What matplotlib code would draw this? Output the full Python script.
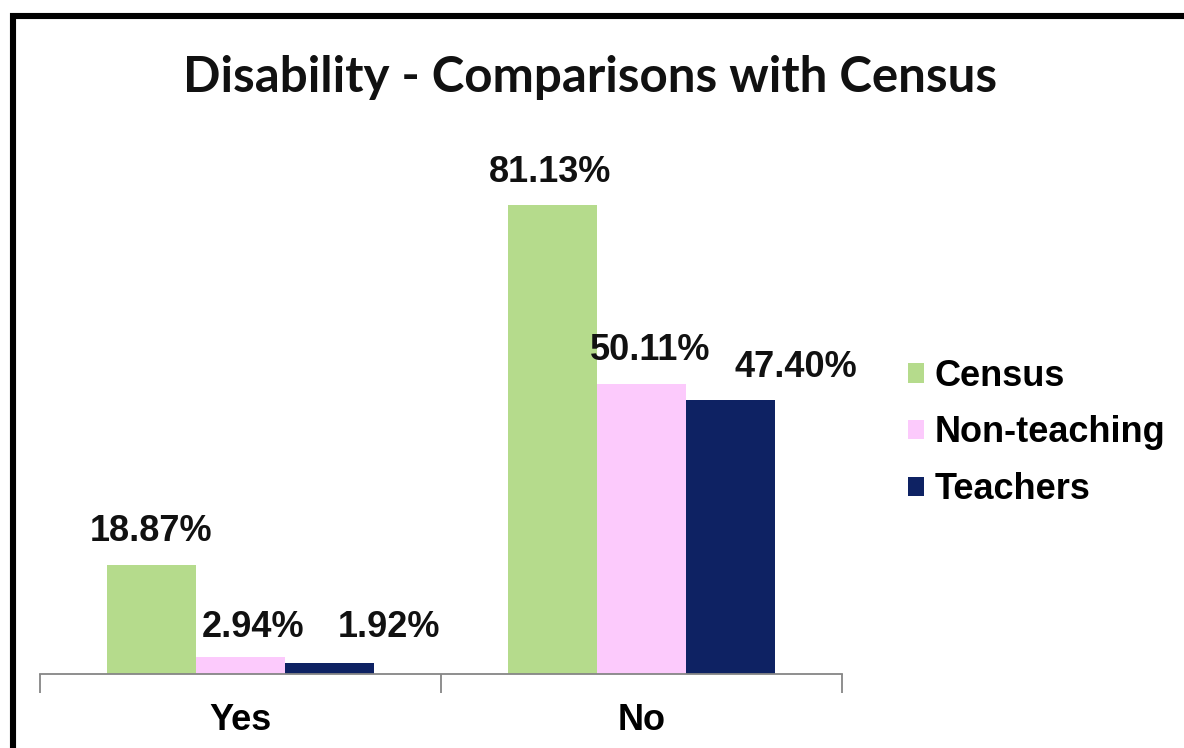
import matplotlib
matplotlib.use("Agg")
import matplotlib.pyplot as plt
from matplotlib.patches import Rectangle, Patch
import numpy as np

W, H, DPI = 1184, 748, 100

categories = ["Yes", "No"]
series = ["Census", "Non-teaching", "Teachers"]
census = [18.87, 81.13]
non_teaching = [2.94, 50.11]
teachers = [1.92, 47.40]

colors = ["#b5db8c", "#fccafc", "#0e2263"]
# label nudges in pixels (dx, dy above bar top), per series then category
label_dx = [[0, -2], [13, 9], [59, 65]]
label_dy = [[24, 23], [20, 24], [26, 23]]

plt.rcParams["font.family"] = ["Liberation Sans", "DejaVu Sans"]

fig = plt.figure(figsize=(W / DPI, H / DPI), dpi=DPI)
fig.patch.set_facecolor("white")

# outer frame of the chart area
fig.add_artist(Rectangle((13 / W, -0.1), 1.5, 1.1 - 16 / H,
                         transform=fig.transFigure, fill=False,
                         edgecolor="black", lw=4.4, clip_on=False))

ax_left, ax_right = 40 / W, 842 / W
ax_bottom = (H - 674) / H
ymax = 92.0
px_per_unit = (674 - 205) / 81.13
ax_h = ymax * px_per_unit / H
ax = fig.add_axes([ax_left, ax_bottom, ax_right - ax_left, ax_h])

x = np.arange(len(categories))
width = 89 / 401
values = [census, non_teaching, teachers]
for i, (name, vals, col) in enumerate(zip(series, values, colors)):
    xs = x + (i - 1) * width
    ax.bar(xs, vals, width=width, color=col, label=name, zorder=2)
    for j, v in enumerate(vals):
        ax.annotate(f"{v:.2f}%", (xs[j], v),
                    xytext=(label_dx[i][j], label_dy[i][j]),
                    textcoords="offset pixels", ha="center", va="baseline",
                    fontsize=26, fontweight="bold", color="#111111")

ax.set_xlim(-0.5, len(categories) - 0.5)
ax.set_ylim(0, ymax)
for s in ["top", "right", "left"]:
    ax.spines[s].set_visible(False)
ax.spines["bottom"].set_color("#868686")
ax.spines["bottom"].set_linewidth(1.3)
ax.set_yticks([])

ax.set_xticks(np.arange(len(categories) + 1) - 0.5)
ax.set_xticklabels([])
ax.tick_params(axis="x", which="major", direction="out", length=14,
               width=1.3, color="#868686")
ax.set_xticks(x, minor=True)
ax.set_xticklabels(categories, minor=True, fontsize=26, fontweight="bold")
ax.tick_params(axis="x", which="minor", length=0, pad=21)

handles = [Patch(facecolor=c, edgecolor="none", label=s)
           for s, c in zip(series, colors)]
fig.legend(handles=handles, loc="center left",
           bbox_to_anchor=(890 / W, 1 - 433 / H), frameon=False,
           prop={"size": 26, "weight": "bold"},
           handlelength=0.45, handleheight=0.45, handletextpad=0.28,
           labelspacing=0.6, borderpad=0)

fig.text(590 / W, 1 - 78 / H, "Disability - Comparisons with Census",
         ha="center", va="center", fontsize=35.5, fontweight="bold",
         family=["Lato", "DejaVu Sans"], color="#111111")

fig.savefig("out.png", dpi=DPI, facecolor=fig.get_facecolor())
